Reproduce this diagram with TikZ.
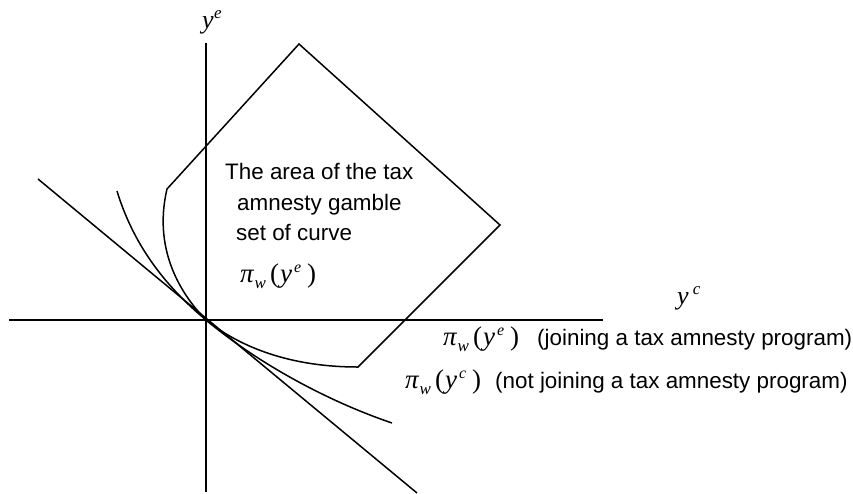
\documentclass[tikz,border=0pt]{standalone}
\usepackage{fontspec}
\setmainfont{Liberation Sans}
\newfontfamily\tnr{Liberation Serif}
\usetikzlibrary{calc}
\tikzset{
    axisline/.style={line width=1.5pt},
    bound/.style={line width=1.5pt, line join=miter},
    txt/.style={anchor=base west, inner sep=0pt, font=\fontsize{22.4}{27}\selectfont},
    mathlbl/.style={anchor=base west, inner sep=0pt},
}
\newcommand{\piw}[1]{{\tnr\fontsize{27}{31}\selectfont\itshape π\kern1pt\raisebox{-6pt}{\fontsize{17}{19}\selectfont w}\kern4pt\upshape(\kern1pt\itshape y\kern2pt\raisebox{10pt}{\fontsize{16}{18}\selectfont #1}\kern6pt\upshape)}}
\newcommand{\yvar}[2]{{\tnr\itshape\fontsize{26}{30}\selectfont y\kern#2\raisebox{10pt}{\fontsize{17}{19}\selectfont #1}}}

\begin{document}
\begin{tikzpicture}[x=1pt, y=-1pt]
    \useasboundingbox (0,0) rectangle (853,493);
    \coordinate (O) at (206,320);
    % axes
    \draw[axisline] (206,43) -- (206,492);
    \draw[axisline] (9,320) -- (603,320);
    \node[mathlbl] (ye) at (202,28) {\yvar{e}{0.5pt}};
    \node[mathlbl] (yc) at (677,304) {\yvar{c}{4pt}};
    % budget line
    \draw[bound] (38,179) -- (417,493);
    % gamble set
    \draw[bound] (O) .. controls (240,347) and (290,367) .. (358,367) -- (500,225) -- (299,44) -- (167,189) .. controls (155,240) and (172,285) .. (O);
    % indifference curve
    \draw[bound] (117,191) .. controls (135,250) and (170,290) .. (O) .. controls (260,365) and (330,402) .. (392,423);
    % labels
    \node[txt] (t1) at (225,179) {The area of the tax};
    \node[txt] (t2) at (237,210) {amnesty gamble};
    \node[txt] (t3) at (236,240) {set of curve};
    \node[mathlbl] (pin) at (240,282) {\piw{e}};
    \node[mathlbl] (pe) at (443,345) {\piw{e}};
    \node[txt] (je) at (537,345) {(joining a tax amnesty program)};
    \node[mathlbl] (pc) at (405,388) {\piw{c}};
    \node[txt] (jc) at (495,388) {(not joining a tax amnesty program)};
\end{tikzpicture}
\end{document}
